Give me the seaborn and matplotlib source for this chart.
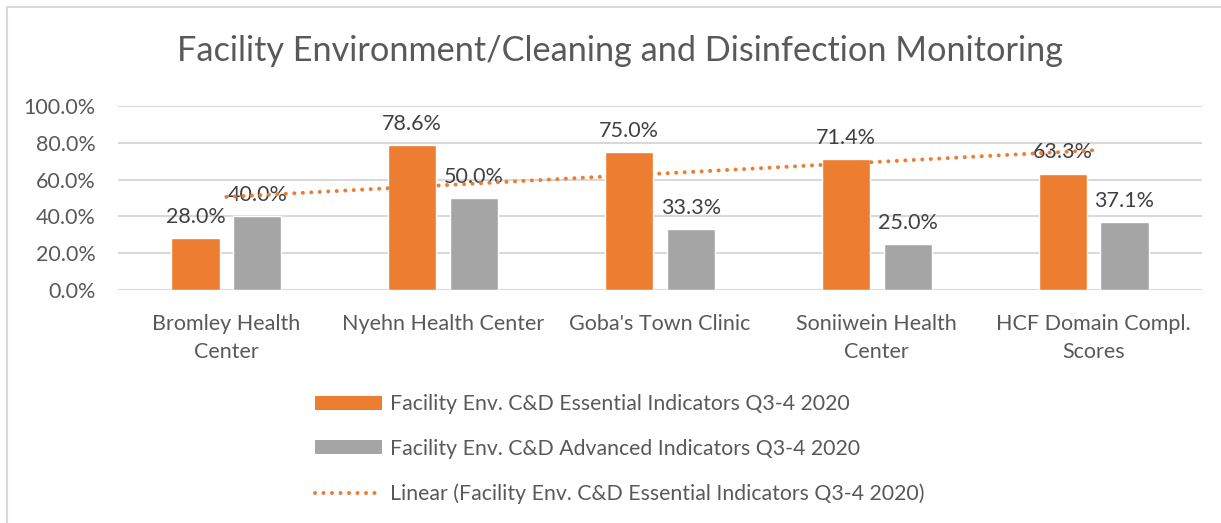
import numpy as np
import pandas as pd
import matplotlib
matplotlib.use("Agg")
import matplotlib.pyplot as plt
from matplotlib.lines import Line2D
from matplotlib.patches import Patch
import seaborn as sns

categories = ["Bromley Health\nCenter", "Nyehn Health Center", "Goba's Town Clinic",
              "Soniiwein Health\nCenter", "HCF Domain Compl.\nScores"]
essential = [0.280, 0.786, 0.750, 0.714, 0.633]
advanced = [0.400, 0.500, 0.333, 0.250, 0.371]
series_names = ["Facility Env. C&D Essential Indicators Q3-4 2020",
                "Facility Env. C&D Advanced Indicators Q3-4 2020"]
trend_name = "Linear (Facility Env. C&D Essential Indicators Q3-4 2020)"
title = "Facility Environment/Cleaning and Disinfection Monitoring"
yticks = [0.0, 0.2, 0.4, 0.6, 0.8, 1.0]

ORANGE = "#ED7D31"
GREY = "#A5A5A5"
TEXT = "#595959"
GRID = "#D9D9D9"
DOTS = (0, (0.01, 2.1))

sns.set_theme(style="white")
plt.rcParams["font.family"] = ["Lato", "DejaVu Sans"]

df = pd.DataFrame({
    "category": categories * 2,
    "value": essential + advanced,
    "series": [series_names[0]] * len(categories) + [series_names[1]] * len(categories),
})

fig = plt.figure(figsize=(12.21, 5.23), dpi=100)
ax = fig.add_axes([118 / 1221, 1 - 290 / 523, (1202 - 118) / 1221, (290 - 106) / 523])

sns.barplot(data=df, x="category", y="value", hue="series", order=categories,
            hue_order=series_names, palette=[ORANGE, GREY], width=0.57, gap=0.22,
            saturation=1, legend=False, ax=ax, errorbar=None)

for cont in ax.containers:
    ax.bar_label(cont, labels=[f"{v * 100:.1f}%" for v in cont.datavalues],
                 padding=8, fontsize=15.5, color="#404040")

sns.regplot(x=np.arange(len(categories)), y=np.array(essential), scatter=False, ci=None,
            truncate=True, ax=ax,
            line_kws=dict(color=ORANGE, lw=2.9, linestyle=DOTS, dash_capstyle="round", zorder=5))

ax.set_xlim(-0.5, len(categories) - 0.5)
ax.set_ylim(0, 1.0)
ax.set_yticks(yticks)
ax.set_yticklabels([f"{t * 100:.1f}%" for t in yticks])
ax.set_xticks(range(len(categories)))
ax.set_xticklabels(categories, linespacing=1.55)
ax.set_xlabel("")
ax.set_ylabel("")
ax.grid(axis="y", color=GRID, lw=1.5)
ax.set_axisbelow(True)
for s in ax.spines.values():
    s.set_visible(False)
ax.tick_params(axis="both", length=0, labelsize=15.5, labelcolor=TEXT)
ax.tick_params(axis="y", pad=16)
ax.tick_params(axis="x", pad=17)

fig.text(620 / 1221, 1 - 51 / 523, title, ha="center", va="center",
         fontsize=24.7, color=TEXT)

handles = [Patch(facecolor=ORANGE, edgecolor="none"),
           Patch(facecolor=GREY, edgecolor="none"),
           Line2D([0], [0], color=ORANGE, lw=2.9, linestyle=DOTS, dash_capstyle="round")]
fig.legend(handles, series_names + [trend_name], loc="center left",
           bbox_to_anchor=(315 / 1221, 1 - 449 / 523), frameon=False,
           fontsize=15.3, labelcolor=TEXT, handlelength=3.15, handleheight=0.6,
           handletextpad=0.4, labelspacing=1.15, borderpad=0, borderaxespad=0)

fig.add_artist(Line2D([6.5 / 1221, 6.5 / 1221, 1.0], [0, 1 - 7 / 523, 1 - 7 / 523],
                      transform=fig.transFigure, color=GRID, lw=1.5))

fig.savefig("out.png", dpi=100)
